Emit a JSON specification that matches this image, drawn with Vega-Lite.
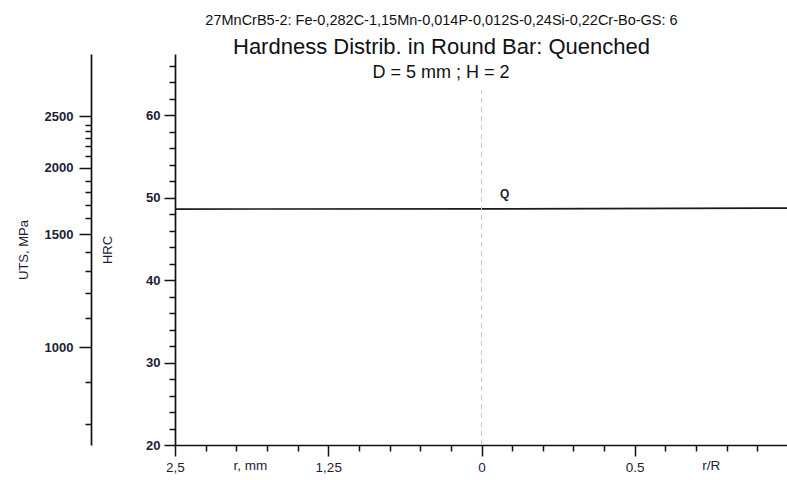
{
  "$schema": "https://vega.github.io/schema/vega-lite/v6.json",
  "autosize": {"type": "none"},
  "padding": {"left": 175, "top": 54, "right": 0, "bottom": 35},
  "width": 613,
  "height": 391,
  "background": "white",
  "config": {
    "view": {"stroke": null},
    "font": "Liberation Sans",
    "axis": {
      "grid": false,
      "domainColor": "#111111",
      "tickColor": "#111111",
      "domainWidth": 1.7,
      "tickWidth": 1.5,
      "labelColor": "#1c1c38",
      "titleColor": "#1c1c38",
      "labelFont": "Liberation Sans",
      "titleFont": "Liberation Sans",
      "labelOverlap": false,
      "labelFlush": false,
      "titleFontWeight": "normal"
    }
  },
  "title": {
    "text": "27MnCrB5-2: Fe-0,282C-1,15Mn-0,014P-0,012S-0,24Si-0,22Cr-Bo-GS: 6",
    "subtitle": "Hardness Distrib. in Round Bar: Quenched",
    "font": "Liberation Sans",
    "fontSize": 14.5,
    "fontWeight": "normal",
    "color": "#111111",
    "subtitleFont": "Liberation Sans",
    "subtitleFontSize": 22,
    "subtitleColor": "#111111",
    "subtitlePadding": 9,
    "anchor": "middle",
    "dx": -40,
    "offset": -5
  },
  "layer": [
    {
      "data": {"values": [
        {"r": -2.5, "hrc": 48.6},
        {"r": 0, "hrc": 48.62},
        {"r": 2.5, "hrc": 48.72}
      ]},
      "mark": {"type": "line", "color": "#1a1a1a", "strokeWidth": 1.6},
      "encoding": {
        "x": {
          "field": "r", "type": "quantitative",
          "scale": {"domain": [-2.5, 2.5], "nice": false, "zero": false},
          "axis": {
            "orient": "bottom",
            "values": [-2.5, -1.25, 0, 1.25],
            "labelExpr": "datum.value < -2 ? '2,5' : datum.value < -1 ? '1,25' : datum.value < 0.5 ? '0' : '0.5'",
            "tickSize": 11, "labelPadding": 4, "labelFontSize": 13.5, "title": null
          }
        },
        "y": {
          "field": "hrc", "type": "quantitative",
          "scale": {"domain": [20, 67.4], "nice": false, "zero": false},
          "axis": {
            "orient": "left",
            "values": [20, 30, 40, 50, 60],
            "tickSize": 11, "labelPadding": 4, "labelFontSize": 13, "labelFontWeight": "bold",
            "title": "HRC", "titleFontSize": 13, "titlePadding": 31
          }
        }
      }
    },
    {
      "data": {"values": [{"r": 0.19, "hrc": 50.4, "label": "Q"}]},
      "mark": {"type": "text", "fontSize": 12, "fontWeight": "bold", "color": "#222222", "align": "center", "baseline": "middle"},
      "encoding": {
        "x": {
          "field": "r", "type": "quantitative",
          "scale": {"domain": [-2.5, 2.5], "nice": false, "zero": false},
          "axis": {
            "orient": "bottom",
            "values": [-2.25, -2, -1.75, -1.5, -1, -0.75, -0.5, -0.25, 0.25, 0.5, 0.75, 1, 1.5, 1.75, 2, 2.25],
            "tickSize": 6, "labels": false, "domain": false, "title": null
          }
        },
        "y": {
          "field": "hrc", "type": "quantitative",
          "scale": {"domain": [20, 67.4], "nice": false, "zero": false},
          "axis": {
            "orient": "left",
            "values": [22, 24, 26, 28, 32, 34, 36, 38, 42, 44, 46, 48, 52, 54, 56, 58, 62, 64, 66],
            "tickSize": 6, "labels": false, "domain": false, "title": null
          }
        },
        "text": {"field": "label"}
      }
    },
    {
      "data": {"values": [{"r": 0, "hrc": 20, "hrc_top": 63}]},
      "mark": {"type": "rule", "color": "#c8c8c8", "strokeWidth": 1, "strokeDash": [5, 4]},
      "encoding": {
        "x": {
          "field": "r", "type": "quantitative",
          "scale": {"domain": [-2.5, 2.5], "nice": false, "zero": false},
          "axis": {
            "orient": "bottom",
            "values": [-1.89, 1.87],
            "labelExpr": "datum.value < 0 ? 'r, mm' : 'r/R'",
            "tickSize": 11, "tickOpacity": 0, "labelPadding": 2, "labelFontSize": 13.5,
            "domain": false, "title": null
          }
        },
        "y": {
          "field": "hrc", "type": "quantitative",
          "scale": {"domain": [20, 67.4], "nice": false, "zero": false},
          "axis": {
            "orient": "left",
            "values": [59.88, 53.61, 45.54, 31.84],
            "labelExpr": "datum.value > 59 ? '2500' : datum.value > 53 ? '2000' : datum.value > 45 ? '1500' : '1000'",
            "offset": 84, "tickSize": 12, "labelPadding": 6, "labelFontSize": 13, "labelFontWeight": "bold",
            "title": "UTS, MPa", "titleFontSize": 13, "titlePadding": 14
          }
        },
        "y2": {"field": "hrc_top"}
      }
    },
    {
      "data": {"values": [{"r": -0.33, "hrc": 65.1, "label": "D = 5 mm ; H = 2"}]},
      "mark": {"type": "text", "fontSize": 18, "color": "#111111", "align": "center", "baseline": "middle"},
      "encoding": {
        "x": {
          "field": "r", "type": "quantitative",
          "scale": {"domain": [-2.5, 2.5], "nice": false, "zero": false},
          "axis": null
        },
        "y": {
          "field": "hrc", "type": "quantitative",
          "scale": {"domain": [20, 67.4], "nice": false, "zero": false},
          "axis": {
            "orient": "left",
            "values": [58.79, 58.06, 57.25, 56.28, 55.07, 52.0, 50.63, 49.09, 47.48, 43.43, 41.13, 38.46, 35.36, 27.67, 22.55],
            "offset": 84, "tickSize": 6, "labels": false, "domain": false, "title": null
          }
        },
        "text": {"field": "label"}
      }
    }
  ],
  "resolve": {"axis": {"x": "independent", "y": "independent"}}
}
